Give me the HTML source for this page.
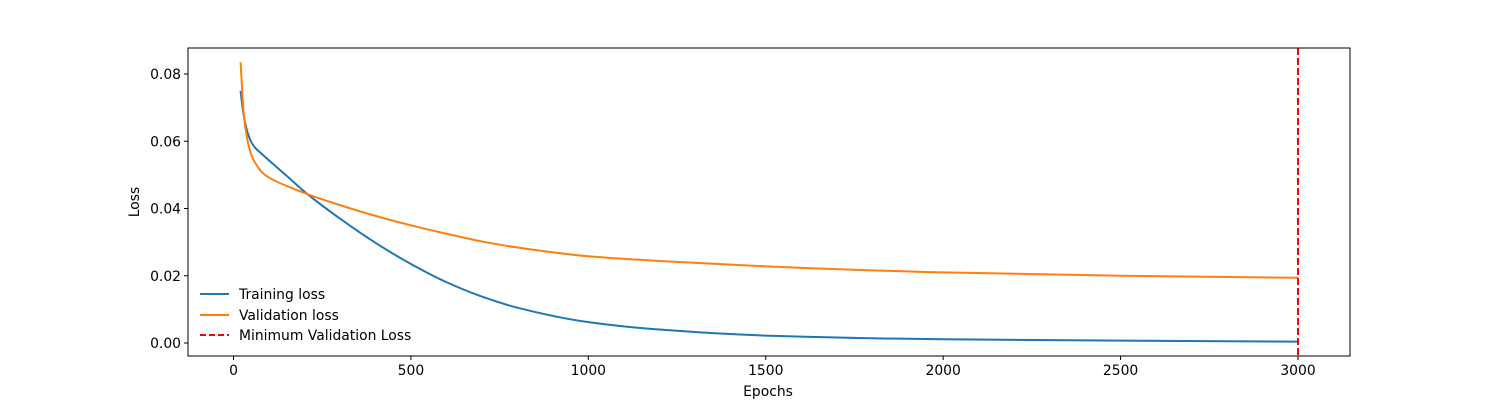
<!DOCTYPE html>
<html><head><meta charset="utf-8"><style>
html,body{margin:0;padding:0;background:#fff;}
svg{display:block;font-family:"DejaVu Sans","Liberation Sans",sans-serif;}
</style></head><body>
<svg id="chart" width="1500" height="400">
<rect x="188" y="48" width="1162" height="308" fill="#fff" stroke="none"/>
<g id="marks"></g>
<g id="axes"></g>
<rect x="188" y="48" width="1162" height="308" fill="none" stroke="#000" stroke-width="1"/>
<text x="768" y="396" font-size="13.9" text-anchor="middle">Epochs</text>
<text transform="translate(139,202) rotate(-90)" font-size="13.9" text-anchor="middle">Loss</text>
<g>
<line x1="200" y1="294" x2="229" y2="294" stroke="#1f77b4" stroke-width="2"/>
<text x="239" y="299" font-size="13.9">Training loss</text>
<line x1="200" y1="315" x2="229" y2="315" stroke="#ff7f0e" stroke-width="2"/>
<text x="239" y="320" font-size="13.9">Validation loss</text>
<line x1="200" y1="335" x2="229" y2="335" stroke="#ff0000" stroke-width="2" stroke-dasharray="6,3"/>
<text x="239" y="340" font-size="13.9">Minimum Validation Loss</text>
</g>
</svg>
<script>
const epochs = [20,25,30,40,50,60,80,100,150,200,300,400,500,600,700,800,1000,1200,1500,2000,2500,3000];
const trainLoss = [0.075,0.0705,0.067,0.0625,0.0598,0.0582,0.0562,0.0543,0.0497,0.045,0.037,0.0298,0.0235,0.0181,0.0138,0.0105,0.0062,0.004,0.0022,0.0011,0.0007,0.0004];
const valLoss = [0.0835,0.074,0.067,0.06,0.056,0.0538,0.0508,0.0492,0.0467,0.0446,0.041,0.0378,0.035,0.0325,0.0302,0.0284,0.0258,0.0244,0.0228,0.021,0.02,0.0194];
const minEpoch = 3000;
const xTicks = [0,500,1000,1500,2000,2500,3000];
const yTicks = [0,0.02,0.04,0.06,0.08];
const yTickLabels = ["0.00","0.02","0.04","0.06","0.08"];

const NS="http://www.w3.org/2000/svg";
function xs(v){return 233.5+v*(1298-233.5)/3000;}
function ys(v){return 343-v*(343-74)/0.08;}
const marks=document.getElementById('marks'), axes=document.getElementById('axes');
function mk(tag,attrs,parent){const e=document.createElementNS(NS,tag);for(const k in attrs)e.setAttribute(k,attrs[k]);parent.appendChild(e);return e;}

xTicks.forEach((t,i)=>{
  const g=mk('g',{},axes);
  
  
  mk('line',{x1:xs(t),x2:xs(t),y1:356,y2:360,stroke:'#000'},g);
  const tx=mk('text',{x:xs(t),y:375,'font-size':13.9,'text-anchor':'middle'},g);
  tx.textContent=t;
});
yTicks.forEach((t,i)=>{
  const g=mk('g',{},axes);
  
  
  mk('line',{x1:184,x2:188,y1:ys(t),y2:ys(t),stroke:'#000'},g);
  const tx=mk('text',{x:181,y:ys(t)+5,'font-size':13.9,'text-anchor':'end'},g);
  tx.textContent=yTickLabels[i];
});
// monotone cubic (Fritsch-Carlson) in pixel space
function path(vals){
  const X=epochs.map(xs), Y=vals.map(ys), n=X.length;
  const d=[],m=new Array(n);
  for(let i=0;i<n-1;i++)d.push((Y[i+1]-Y[i])/(X[i+1]-X[i]));
  m[0]=d[0];m[n-1]=d[n-2];
  for(let i=1;i<n-1;i++){
    if(d[i-1]*d[i]<=0)m[i]=0;
    else{const h0=X[i]-X[i-1],h1=X[i+1]-X[i];const w1=2*h1+h0,w2=h1+2*h0;m[i]=(w1+w2)/(w1/d[i-1]+w2/d[i]);}
  }
  let s='M'+X[0]+','+Y[0];
  for(let i=0;i<n-1;i++){
    const h=(X[i+1]-X[i])/3;
    s+=' C'+(X[i]+h)+','+(Y[i]+m[i]*h)+' '+(X[i+1]-h)+','+(Y[i+1]-m[i+1]*h)+' '+X[i+1]+','+Y[i+1];
  }
  return s;
}
const t=mk('path',{d:path(trainLoss),fill:'none',stroke:'#1f77b4','stroke-width':2},marks);


const v=mk('path',{d:path(valLoss),fill:'none',stroke:'#ff7f0e','stroke-width':2},marks);


const m=mk('line',{x1:xs(minEpoch),x2:xs(minEpoch),y1:48,y2:356,stroke:'#ff0000','stroke-width':2,'stroke-dasharray':'7,3'},marks);


</script>
</body></html>
